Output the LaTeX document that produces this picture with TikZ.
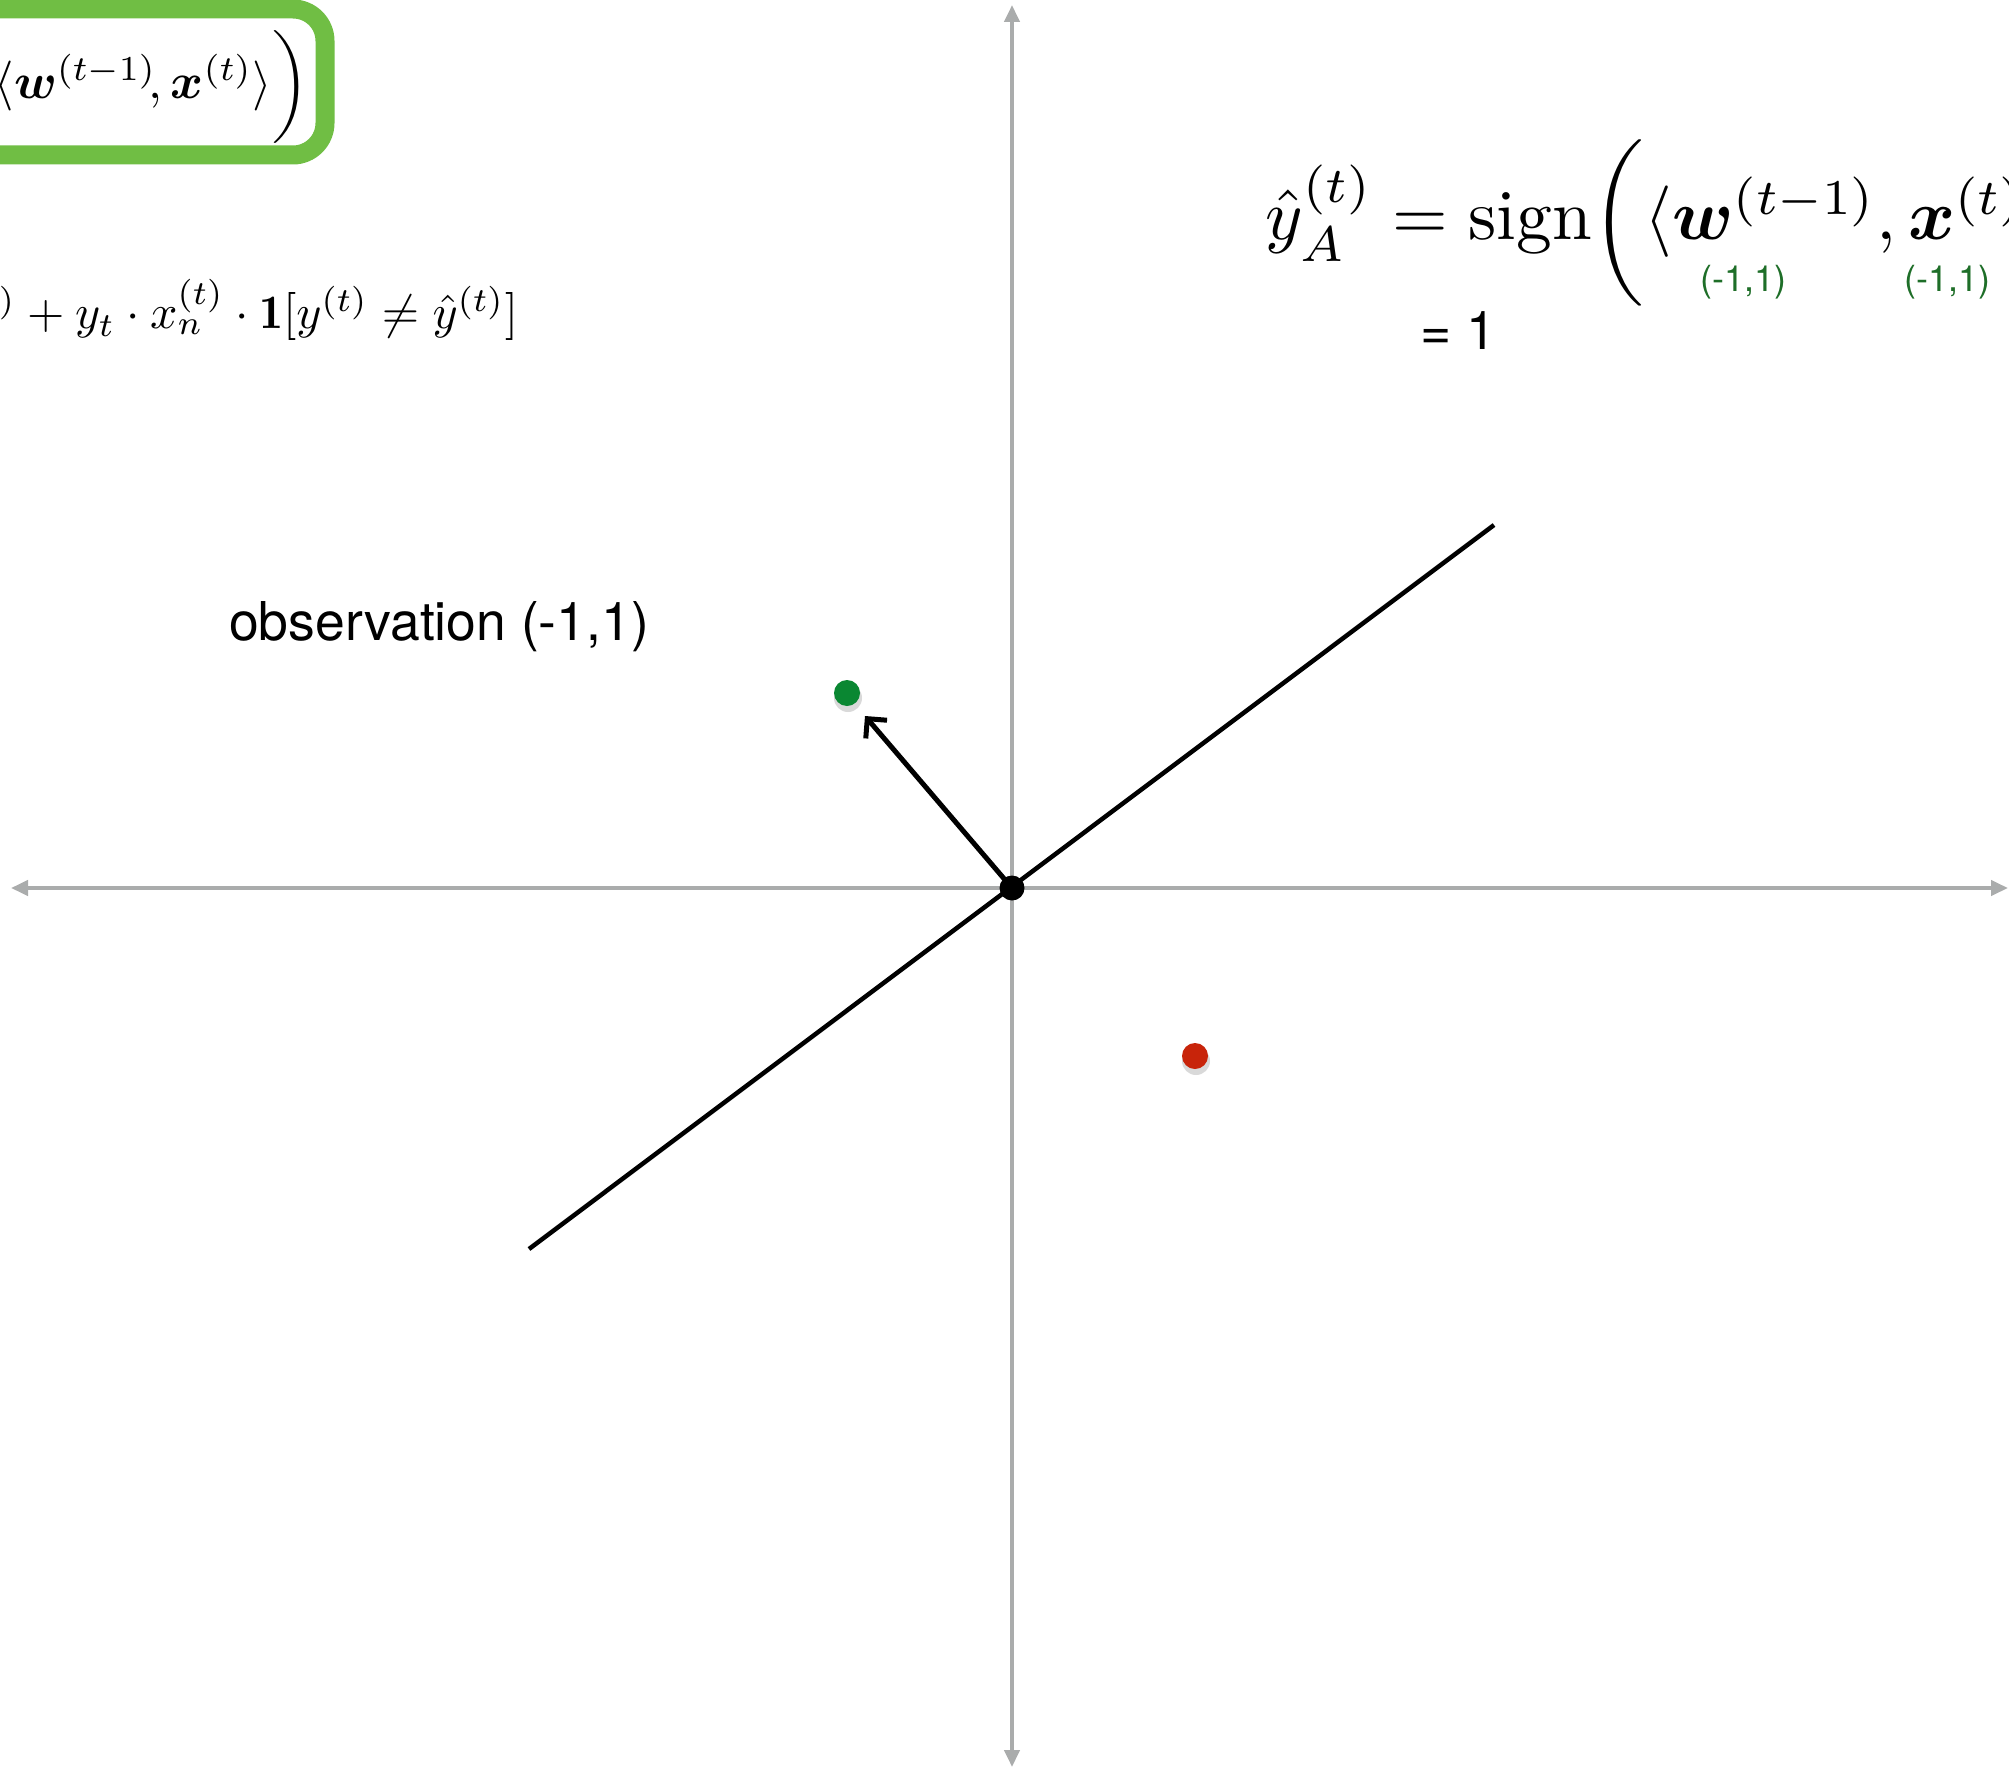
\documentclass[tikz,border=0pt]{standalone}
\usepackage{amsmath,amssymb}
\usepackage{fontspec}
\newfontfamily\hel{TeX Gyre Heros}
\usetikzlibrary{arrows.meta}
\definecolor{axisgray}{RGB}{170,172,172}
\definecolor{boxgreen}{RGB}{112,190,68}
\definecolor{lblgreen}{RGB}{30,110,40}
\definecolor{dotgreen}{RGB}{10,135,50}
\definecolor{dotred}{RGB}{200,36,10}
\begin{document}
\begin{tikzpicture}[x=1pt,y=-1pt,
  axis/.style={draw=axisgray,line width=4pt,
    {Triangle[length=17pt,width=15pt]}-{Triangle[length=17pt,width=15pt]}},
  boundary/.style={draw=black,line width=4.5pt},
  warrow/.style={draw=black,line width=5pt,-{Straight Barb[length=14pt,width=28pt]}},
  dotnode/.style={circle,inner sep=0pt,minimum size=26pt},
  shadow/.style={circle,inner sep=0pt,minimum size=28pt,fill=black,opacity=0.15},
  mathlbl/.style={inner sep=0pt,anchor=base west,font=\fontsize{10}{12}\selectfont},
  sanslbl/.style={inner sep=0pt,font=\hel\fontsize{53.5}{60}\selectfont},
  greenlbl/.style={inner sep=0pt,text=lblgreen,font=\hel\fontsize{36}{40}\selectfont}
]
\useasboundingbox (0,0) rectangle (2009,1768);
\fill[white] (0,0) rectangle (2009,1768);
\begin{scope}
\clip (0,0) rectangle (2009,1768);
% axes
\coordinate (xl) at (11,888);
\coordinate (xr) at (2008,888);
\coordinate (yt) at (1012,5);
\coordinate (yb) at (1012,1767);
\coordinate (O) at (1012,888);
\draw[axis] (xl) -- (xr);
\draw[axis] (yt) -- (yb);
% decision boundary
\coordinate (L1) at (529,1249);
\coordinate (L2) at (1494,525);
\draw[boundary] (L1) -- (L2);
% weight vector
\coordinate (W) at (865,716);
\draw[warrow] (O) -- (W);
% points
\node[shadow] (gs) at (848,698) {};
\node[dotnode,fill=dotgreen] (g) at (847,693) {};
\node[shadow] (rs) at (1196,1061) {};
\node[dotnode,fill=dotred] (r) at (1195,1056) {};
\node[dotnode,fill=black,minimum size=25pt] (o) at (O) {};
% green box
\draw[boxgreen,line width=19pt,rounded corners=32pt] (-120,9) -- (325,9) -- (325,155) -- (-120,155);
% formulas
\node[mathlbl,anchor=base east,scale=5.0] (f1) at (310,99)
  {$\langle \boldsymbol{w}^{(t-1)}\!, \boldsymbol{x}^{(t)}\rangle\scalebox{1}[0.94]{$\bigg)$}$};
\node[mathlbl,scale=4.8] (f2) at (-2,329)
  {${}^{)} + y_t \cdot x_n^{(t)} \cdot \mathbf{1}[y^{(t)} \neq \hat{y}^{(t)}]$};
\node[mathlbl,scale=7.15] (f3) at (1264,240)
  {$\hat{y}_A^{(t)} = \mathrm{sign}\scalebox{1}[0.97]{$\bigg($}\langle \boldsymbol{w}^{(t-1)}, \boldsymbol{x}^{(t)}$};
\node[greenlbl] (l1) at (1743,282) {(-1,1)};
\node[greenlbl] (l2) at (1947,282) {(-1,1)};
\node[sanslbl] (eq) at (1458,331) {= 1};
\node[sanslbl,anchor=west] (obs) at (229,627) {observation (-1,1)};
\end{scope}
\end{tikzpicture}
\end{document}
